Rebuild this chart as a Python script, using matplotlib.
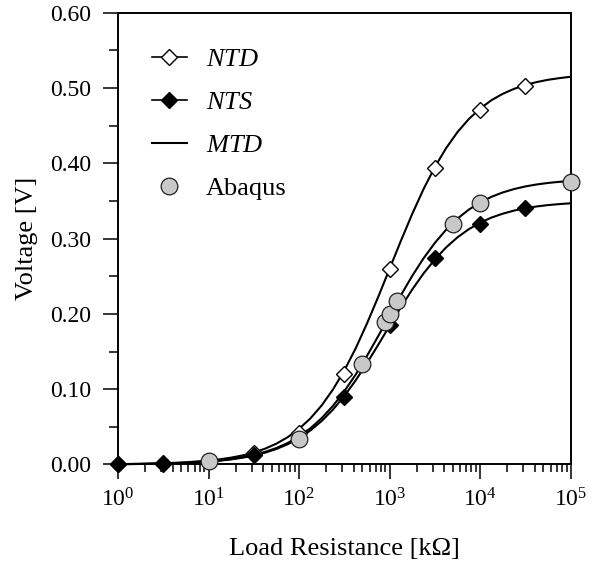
import matplotlib
matplotlib.use("Agg")
import matplotlib.pyplot as plt
from matplotlib.lines import Line2D
from matplotlib.ticker import MultipleLocator, FormatStrFormatter, LogLocator

plt.rcParams["font.family"] = "Liberation Serif"
plt.rcParams["mathtext.fontset"] = "custom"
plt.rcParams["mathtext.rm"] = "Liberation Serif"
plt.rcParams["mathtext.it"] = "Liberation Serif:italic"

# markers (load resistance in kOhm, voltage in V)
ntd_r = [1, 3.162, 10, 31.62, 100, 316.2, 1000, 3162, 10000, 31623]
ntd_v = [0.0005, 0.0016, 0.005, 0.015, 0.042, 0.120, 0.260, 0.394, 0.471, 0.502]

nts_r = [1, 3.162, 31.62, 316.2, 1000, 3162, 10000, 31623]
nts_v = [0.0, 0.001, 0.012, 0.090, 0.185, 0.274, 0.320, 0.340]

abq_r = [10, 100, 500, 900, 1000, 1200, 5000, 10000, 100000]
abq_v = [0.005, 0.034, 0.134, 0.189, 0.200, 0.217, 0.320, 0.347, 0.375]

# MTD curves (eighth-decade steps above 10 kOhm)
mtd_r = [1, 1.778, 3.162, 5.623,
         10, 13.34, 17.78, 23.71, 31.62, 42.17, 56.23, 74.99,
         100, 133.4, 177.8, 237.1, 316.2, 421.7, 562.3, 749.9,
         1000, 1334, 1778, 2371, 3162, 4217, 5623, 7499,
         10000, 13335, 17783, 23714, 31623, 42170, 56234, 74989, 100000]
mtd_ntd = [0.0005, 0.0009, 0.0016, 0.0029,
           0.0052, 0.0069, 0.0091, 0.0120, 0.0159, 0.0210, 0.0277, 0.0363,
           0.0473, 0.0612, 0.0785, 0.0997, 0.1249, 0.1542, 0.1872, 0.2228,
           0.2600, 0.2972, 0.3328, 0.3658, 0.3951, 0.4203, 0.4415, 0.4588,
           0.4727, 0.4838, 0.4923, 0.4989, 0.5040, 0.5079, 0.5109, 0.5131, 0.5149]
mtd_nts = [0.0004, 0.0007, 0.0012, 0.0022,
           0.0039, 0.0051, 0.0068, 0.0090, 0.0119, 0.0157, 0.0206, 0.0269,
           0.0350, 0.0452, 0.0578, 0.0730, 0.0910, 0.1117, 0.1346, 0.1591,
           0.1842, 0.2090, 0.2324, 0.2537, 0.2724, 0.2884, 0.3017, 0.3125,
           0.3211, 0.3279, 0.3331, 0.3372, 0.3403, 0.3427, 0.3445, 0.3458, 0.3469]
mtd_abq = [0.0004, 0.0007, 0.0013, 0.0023,
           0.0041, 0.0054, 0.0072, 0.0096, 0.0126, 0.0167, 0.0219, 0.0286,
           0.0373, 0.0481, 0.0616, 0.0779, 0.0972, 0.1194, 0.1442, 0.1707,
           0.1979, 0.2249, 0.2505, 0.2738, 0.2943, 0.3119, 0.3266, 0.3385,
           0.3480, 0.3555, 0.3613, 0.3658, 0.3693, 0.3719, 0.3739, 0.3754, 0.3765]

fig = plt.figure(figsize=(6.03, 5.67), dpi=100)
ax = fig.add_axes([0.1957, 0.1808, 0.7507, 0.7968])

for v in (mtd_ntd, mtd_nts, mtd_abq):
    ax.plot(mtd_r, v, color="k", lw=1.5, zorder=2, clip_on=False)

ax.plot(ntd_r, ntd_v, ls="none", marker="D", ms=8.5, mfc="white", mec="k", mew=1.0,
        zorder=3, clip_on=False)
ax.plot(nts_r, nts_v, ls="none", marker="D", ms=8.5, mfc="k", mec="k", mew=1.0,
        zorder=4, clip_on=False)
ax.plot(abq_r, abq_v, ls="none", marker="o", ms=12, mfc="#c8c8c8", mec="#222222",
        mew=0.9, zorder=5, clip_on=False)

ax.set_xscale("log")
ax.set_xlim(1, 1e5)
ax.set_ylim(0, 0.60)
ax.yaxis.set_major_locator(MultipleLocator(0.1))
ax.yaxis.set_minor_locator(MultipleLocator(0.05))
ax.yaxis.set_major_formatter(FormatStrFormatter("%.2f"))
ax.xaxis.set_major_locator(LogLocator(base=10, numticks=10))
ax.xaxis.set_minor_locator(LogLocator(base=10, subs=range(2, 10), numticks=20))

ax.tick_params(which="both", direction="out", top=False, right=False, width=1.1,
               labelsize=17)
ax.tick_params(axis="x", which="major", length=11, pad=6)
ax.tick_params(axis="x", which="minor", length=5.5)
ax.tick_params(axis="y", which="major", length=11, pad=8)
ax.tick_params(axis="y", which="minor", length=6.5)
for s in ax.spines.values():
    s.set_linewidth(1.4)

ax.set_xlabel("Load Resistance [k\u03a9]", fontsize=19, labelpad=19)
ax.set_ylabel("Voltage [V]", fontsize=19, labelpad=9)

handles = [
    Line2D([], [], color="k", lw=1.2, marker="D", ms=8.5, mfc="white", mec="k"),
    Line2D([], [], color="k", lw=1.2, marker="D", ms=8.5, mfc="k", mec="k"),
    Line2D([], [], color="k", lw=1.5),
    Line2D([], [], ls="none", marker="o", ms=12, mfc="#c8c8c8", mec="#222222", mew=0.9),
]
labels = ["$\\it{NTD}$", "$\\it{NTS}$", "$\\it{MTD}$", "Abaqus"]
ax.legend(handles, labels, loc="upper left", bbox_to_anchor=(0.022, 0.976), frameon=False,
          fontsize=19, handlelength=1.33, handletextpad=0.72, labelspacing=0.74)

plt.savefig("out.png", dpi=100)
